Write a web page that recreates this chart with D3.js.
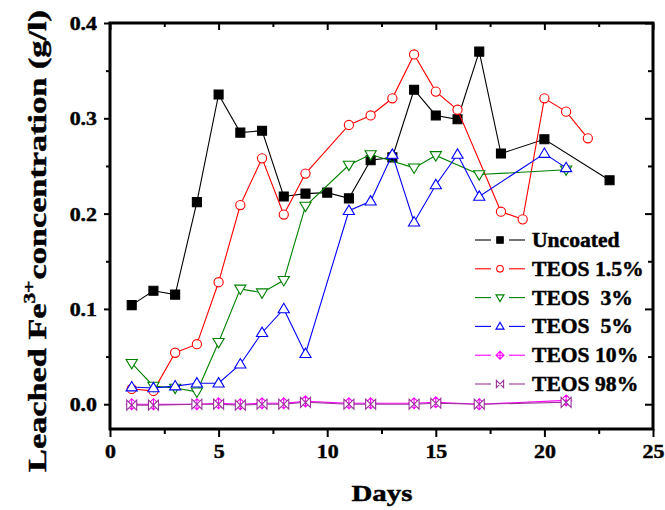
<!DOCTYPE html>
<html>
<head>
<meta charset="utf-8">
<script src="https://cdn.jsdelivr.net/npm/d3@7"></script>
<style>
  html, body { margin: 0; padding: 0; background: #fff; }
  svg { display: block; }
  text { font-family: "Liberation Serif", "Times New Roman", serif; font-weight: bold; fill: #000; stroke: #000; stroke-width: 0.45px; }
</style>
</head>
<body>
<div id="chart"></div>
<script>
/* Leached Fe3+ vs. days — one line per coating */

const seriesNames  = ['Uncoated', 'TEOS 1.5%', 'TEOS  3%', 'TEOS  5%', 'TEOS 10%', 'TEOS 98%'];
const seriesColors = ['#000000', '#ff0000', '#008000', '#0000ff', '#ff00ff', '#993399'];
const seriesMarks  = ['square', 'circle', 'tri-down', 'tri-up', 'diamond-cross', 'bowtie'];

const uncoatedDays = [1, 2, 3, 4, 5, 6, 7, 8, 9, 10, 11, 12, 13, 14, 15, 16, 17, 18, 20, 23];
const uncoatedVals = [0.104, 0.119, 0.115, 0.212, 0.325, 0.285, 0.287, 0.218, 0.221, 0.222, 0.216, 0.256, 0.259, 0.330, 0.303, 0.299, 0.370, 0.263, 0.278, 0.235];

const teos15Days = [1, 2, 3, 4, 5, 6, 7, 8, 9, 11, 12, 13, 14, 15, 16, 18, 19, 20, 21, 22];
const teos15Vals = [0.016, 0.014, 0.054, 0.063, 0.128, 0.209, 0.258, 0.199, 0.242, 0.293, 0.303, 0.321, 0.367, 0.328, 0.309, 0.202, 0.194, 0.321, 0.307, 0.279];

const teos3Days = [1, 2, 3, 4, 5, 6, 7, 8, 9, 11, 12, 14, 15, 17, 21];
const teos3Vals = [0.043, 0.019, 0.017, 0.013, 0.065, 0.121, 0.117, 0.130, 0.208, 0.251, 0.262, 0.248, 0.261, 0.241, 0.246];

const teos5Days = [1, 2, 3, 4, 5, 6, 7, 8, 9, 11, 12, 13, 14, 15, 16, 17, 20, 21];
const teos5Vals = [0.018, 0.017, 0.019, 0.022, 0.022, 0.042, 0.075, 0.100, 0.053, 0.203, 0.213, 0.262, 0.191, 0.230, 0.262, 0.218, 0.263, 0.248];

const teos10Days = [1, 2, 4, 5, 6, 7, 8, 9, 11, 12, 14, 15, 17, 21];
const teos10Vals = [0.000, 0.000, 0.000, 0.001, 0.000, 0.001, 0.001, 0.003, 0.001, 0.001, 0.001, 0.002, 0.000, 0.004];

const teos98Days = [1, 2, 4, 5, 6, 7, 8, 9, 11, 12, 14, 15, 17, 21];
const teos98Vals = [-0.001, -0.001, 0.000, 0.000, -0.001, 0.000, 0.000, 0.002, 0.000, 0.000, 0.000, 0.001, 0.000, 0.002];

const xMajor = [0, 5, 10, 15, 20, 25];
const xMinor = [2.5, 7.5, 12.5, 17.5, 22.5];
const yMajor = [0.0, 0.1, 0.2, 0.3, 0.4];
const yMinor = [0.05, 0.15, 0.25, 0.35];

const xTitle = 'Days';

const W = 665, H = 510;
const plot = { left: 110, right: 653, top: 23, bottom: 429 };

const svg = d3.select('#chart').append('svg').attr('width', W).attr('height', H);
svg.append('rect').attr('width', W).attr('height', H).attr('fill', '#fff');

const x = d3.scaleLinear().domain([0, 25]).range([plot.left, plot.right]);
const y = d3.scaleLinear().domain([-0.026, 0.4]).range([plot.bottom, plot.top]);

// stretch text horizontally the way the original bitmap is
function stretch(sel, k) {
  sel.each(function () {
    const len = this.getComputedTextLength();
    d3.select(this).attr('textLength', len * k).attr('lengthAdjust', 'spacingAndGlyphs');
  });
}

function markerPath(type, s) {
  const p = d3.path();
  switch (type) {
    case 'square':
      p.rect(-4.5 * s, -4.5 * s, 9 * s, 9 * s); break;
    case 'circle':
      p.arc(0, 0, 4.6 * s, 0, 2 * Math.PI); p.closePath(); break;
    case 'tri-down':
      p.moveTo(-5.6 * s, -3.8 * s); p.lineTo(5.6 * s, -3.8 * s); p.lineTo(0, 5.6 * s); p.closePath(); break;
    case 'tri-up':
      p.moveTo(-5.6 * s, 3.8 * s); p.lineTo(5.6 * s, 3.8 * s); p.lineTo(0, -5.6 * s); p.closePath(); break;
    case 'diamond-cross':
      p.moveTo(0, -5.5 * s); p.lineTo(5.5 * s, 0); p.lineTo(0, 5.5 * s); p.lineTo(-5.5 * s, 0); p.closePath();
      p.moveTo(0, -5.5 * s); p.lineTo(0, 5.5 * s); p.moveTo(-5.5 * s, 0); p.lineTo(5.5 * s, 0); break;
    case 'bowtie':
      p.moveTo(-5 * s, -5 * s); p.lineTo(5 * s, 5 * s); p.lineTo(5 * s, -5 * s); p.lineTo(-5 * s, 5 * s); p.closePath();
      p.moveTo(-5 * s, -5 * s); p.lineTo(-5 * s, 5 * s); break;
  }
  return p.toString();
}

const allDays = [uncoatedDays, teos15Days, teos3Days, teos5Days, teos10Days, teos98Days];
const allVals = [uncoatedVals, teos15Vals, teos3Vals, teos5Vals, teos10Vals, teos98Vals];

const line = d3.line().x(d => x(d[0])).y(d => y(d[1]));

seriesNames.forEach((name, i) => {
  const pts = allDays[i].map((d, j) => [d, allVals[i][j]]);
  const g = svg.append('g').attr('class', 'series');
  g.append('path').datum(pts)
    .attr('d', line).attr('fill', 'none')
    .attr('stroke', seriesColors[i]).attr('stroke-width', 1.1);
  const filled = seriesMarks[i] === 'square';
  g.selectAll('path.mk').data(pts).enter().append('path')
    .attr('class', 'mk')
    .attr('transform', d => `translate(${x(d[0])},${y(d[1])})`)
    .attr('d', markerPath(seriesMarks[i], 1))
    .attr('fill', filled ? seriesColors[i] : '#fff')
    .attr('stroke', seriesColors[i]).attr('stroke-width', 1.1);
});

// axes
function styleAxis(g) {
  g.select('.domain').remove();
  g.selectAll('.tick line').attr('stroke', '#000').attr('stroke-width', 2);
}

const bottomMaj = svg.append('g').attr('transform', `translate(0,${plot.bottom})`)
  .call(d3.axisBottom(x).tickValues(xMajor).tickSize(8).tickFormat(d3.format('d')));
svg.append('g').attr('transform', `translate(0,${plot.bottom})`)
  .call(d3.axisBottom(x).tickValues(xMinor).tickSize(5).tickFormat('')).call(styleAxis);
bottomMaj.call(styleAxis);
bottomMaj.selectAll('text').attr('y', 29).attr('dy', null)
  .style('font-size', '19px').style('font-family', null).attr('fill', '#000');
stretch(bottomMaj.selectAll('text'), 1.15);

const leftMaj = svg.append('g').attr('transform', `translate(${plot.left},0)`)
  .call(d3.axisLeft(y).tickValues(yMajor).tickSize(6).tickFormat(d3.format('.1f')));
svg.append('g').attr('transform', `translate(${plot.left},0)`)
  .call(d3.axisLeft(y).tickValues(yMinor).tickSize(4).tickFormat('')).call(styleAxis);
leftMaj.call(styleAxis);
leftMaj.selectAll('text').attr('x', -13).attr('dy', '0.34em')
  .style('font-size', '19px').style('font-family', null).attr('fill', '#000');
stretch(leftMaj.selectAll('text'), 1.15);

svg.append('g').attr('transform', `translate(0,${plot.top})`)
  .call(d3.axisTop(x).tickValues(xMajor).tickSize(-7).tickFormat('')).call(styleAxis);
svg.append('g').attr('transform', `translate(0,${plot.top})`)
  .call(d3.axisTop(x).tickValues(xMinor).tickSize(-4).tickFormat('')).call(styleAxis);
svg.append('g').attr('transform', `translate(${plot.right},0)`)
  .call(d3.axisRight(y).tickValues(yMajor).tickSize(-8).tickFormat('')).call(styleAxis);
svg.append('g').attr('transform', `translate(${plot.right},0)`)
  .call(d3.axisRight(y).tickValues(yMinor).tickSize(-5).tickFormat('')).call(styleAxis);

svg.append('rect')
  .attr('x', plot.left).attr('y', plot.top)
  .attr('width', plot.right - plot.left).attr('height', plot.bottom - plot.top)
  .attr('fill', 'none').attr('stroke', '#000').attr('stroke-width', 3);

// titles
const xt = svg.append('text').attr('x', 382).attr('y', 501)
  .attr('text-anchor', 'middle').style('font-size', '24px').text(xTitle);
xt.attr('textLength', 61).attr('lengthAdjust', 'spacingAndGlyphs');

const yg = svg.append('g').attr('transform', 'translate(46,241) rotate(-90)');
const yt = yg.append('text').attr('text-anchor', 'middle').style('font-size', '26px');
yt.append('tspan').text('Leached Fe');
yt.append('tspan').attr('dy', -11).style('font-size', '16px').text('3+');
yt.append('tspan').attr('dy', 11).attr('dx', 1).text('concentration (g/l)');
const yLen = yt.node().getBBox().width;
yt.attr('transform', `scale(${462 / yLen},1)`);

// legend
const legend = svg.append('g').attr('class', 'legend');
seriesNames.forEach((name, i) => {
  const cy = 240 + i * 28.8;
  const row = legend.append('g').attr('transform', `translate(0,${cy})`);
  row.append('line').attr('x1', 475).attr('x2', 491).attr('y1', 0).attr('y2', 0)
    .attr('stroke', seriesColors[i]).attr('stroke-width', 1.1);
  row.append('line').attr('x1', 509).attr('x2', 525).attr('y1', 0).attr('y2', 0)
    .attr('stroke', seriesColors[i]).attr('stroke-width', 1.1);
  const filled = seriesMarks[i] === 'square';
  row.append('path').attr('transform', 'translate(500,0)')
    .attr('d', markerPath(seriesMarks[i], 0.72))
    .attr('fill', filled ? seriesColors[i] : '#fff')
    .attr('stroke', seriesColors[i]).attr('stroke-width', 1.1);
  const t = row.append('text').attr('x', 532).attr('y', 7)
    .style('font-size', '20px').style('white-space', 'pre').text(name);
  stretch(t, 1.08);
});
</script>
</body>
</html>
